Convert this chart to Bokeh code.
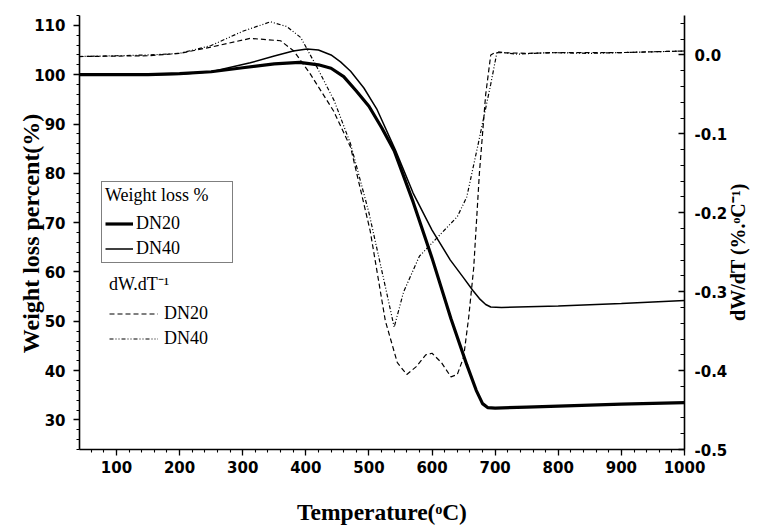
import math
import json
from bokeh.plotting import figure
from bokeh.models import (Range1d, LinearAxis, SingleIntervalTicker, FixedTicker,
                          NumeralTickFormatter, CustomJSTickFormatter, Legend, LegendItem)
from bokeh.embed import file_html
from bokeh.resources import INLINE

# ---------------- data ----------------
t_w20 = [40, 100, 150, 200, 250, 300, 350, 390, 420, 440, 460, 480, 500, 520, 540, 570, 600,
         630, 655, 670, 680, 688, 700, 750, 800, 900, 1000]
w_dn20 = [100, 100, 100, 100.2, 100.6, 101.4, 102.2, 102.5, 102.0, 101.3, 99.6, 96.7, 93.6,
          89.3, 84.6, 74.2, 62.8, 50.5, 41.2, 36.0, 33.3, 32.5, 32.4, 32.6, 32.8, 33.2, 33.5]

t_w40 = [40, 100, 150, 200, 250, 312, 350, 380, 402, 420, 440, 455, 471, 492, 513, 542, 570,
         600, 629, 650, 665, 675, 685, 693, 710, 800, 900, 1000]
w_dn40 = [100, 100, 100, 100.1, 100.6, 102.4, 103.8, 104.8, 105.2, 105.0, 104.0, 102.6, 100.7,
          97.3, 92.9, 84.7, 76.0, 68.5, 62.4, 58.8, 56.2, 54.6, 53.4, 52.9, 52.8, 53.1, 53.6,
          54.2]

t_d20 = [40, 150, 200, 250, 312, 360, 381, 407, 444, 471, 502, 526, 545, 560, 575, 590, 600,
         615, 630, 640, 650, 658, 666, 675, 685, 693, 700, 750, 800, 900, 1000]
d_dn20 = [-0.002, -0.001, 0.002, 0.010, 0.021, 0.018, 0.005, -0.024, -0.071, -0.117, -0.223,
          -0.337, -0.390, -0.405, -0.395, -0.380, -0.378, -0.390, -0.408, -0.405, -0.383,
          -0.333, -0.270, -0.150, -0.050, 0.000, 0.003, 0.002, 0.003, 0.003, 0.005]

t_d40 = [40, 100, 150, 200, 250, 300, 344, 370, 392, 418, 445, 471, 500, 525, 540, 555, 580,
         610, 640, 655, 672, 693, 703, 735, 788, 850, 900, 950, 1000]
d_dn40 = [-0.002, -0.001, 0.000, 0.002, 0.012, 0.030, 0.042, 0.036, 0.022, -0.016, -0.058,
          -0.113, -0.200, -0.290, -0.345, -0.300, -0.255, -0.230, -0.205, -0.180, -0.117,
          -0.037, 0.004, 0.001, 0.003, 0.002, 0.003, 0.004, 0.005]

x_ticks_interval = 100
y_ticks_interval = 10
d_ticks_interval = 0.1

x_title = "Temperature(\u1d52C)"
y_title = "Weight loss percent(%)"
d_title = "dW/dT (%.\u1d52C\u207b\u00b9)"

# ---------------- figure ----------------
X0, X1 = 41.4, 1000
Y0, Y1 = 24, 112
D0, D1 = -0.5, 0.05

p = figure(width=765, height=532, output_backend="svg", toolbar_location=None,
           x_range=Range1d(X0, X1), y_range=Range1d(Y0, Y1),
           min_border_left=79, min_border_right=81, min_border_top=15, min_border_bottom=83)
p.extra_y_ranges = {"d": Range1d(D0, D1)}
p.outline_line_color = None
p.grid.visible = False
p.background_fill_color = "white"
p.border_fill_color = "white"

tick_font = "DejaVu Sans"
title_font = "Liberation Serif"

def style_axis(ax):
    ax.axis_line_color = "black"
    ax.axis_line_width = 1.6
    ax.major_tick_line_color = "black"
    ax.minor_tick_line_color = "black"
    ax.major_tick_line_width = 1.3
    ax.minor_tick_line_width = 1.1
    ax.major_label_text_font = tick_font
    ax.major_label_text_font_style = "bold"
    ax.major_label_text_font_size = "15px"
    ax.major_label_text_color = "black"
    ax.axis_label_text_font = title_font
    ax.axis_label_text_font_style = "bold"
    ax.axis_label_text_font_size = "23.5px"
    ax.axis_label_text_color = "black"

def title_axis(ax, text, size):
    # an axis without line or ticks whose single tick label is the axis title
    ax.formatter = CustomJSTickFormatter(code="return %s;" % json.dumps(text))
    ax.axis_line_color = None
    ax.major_tick_line_color = None
    ax.minor_tick_line_color = None
    ax.major_tick_out = 0
    ax.major_tick_in = 0
    ax.minor_tick_out = 0
    ax.minor_tick_in = 0
    ax.major_label_text_font = title_font
    ax.major_label_text_font_style = "bold"
    ax.major_label_text_font_size = size
    ax.major_label_text_color = "black"
    ax.major_label_orientation = math.pi / 2

xa = p.xaxis[0]
xa.ticker = SingleIntervalTicker(interval=x_ticks_interval, num_minor_ticks=5)
style_axis(xa)
xa.major_tick_out = 6
xa.major_tick_in = 0
xa.minor_tick_out = 3
xa.minor_tick_in = 0
xa.major_label_standoff = 5
xa.axis_label = x_title
xa.axis_label_standoff = 23

ya = p.yaxis[0]
ya.ticker = SingleIntervalTicker(interval=y_ticks_interval, num_minor_ticks=5)
style_axis(ya)
ya.major_tick_out = 6
ya.major_tick_in = 0
ya.minor_tick_out = 3
ya.minor_tick_in = 0
ya.major_label_standoff = 8

# left title: anchored at the top end of the text
ya_title = LinearAxis(ticker=FixedTicker(ticks=[92.1]))
title_axis(ya_title, y_title, "24px")
ya_title.major_label_standoff = 0
p.add_layout(ya_title, "left")

ra = LinearAxis(y_range_name="d",
                ticker=SingleIntervalTicker(interval=d_ticks_interval, num_minor_ticks=5),
                formatter=NumeralTickFormatter(format="0.0"))
style_axis(ra)
ra.major_tick_out = 0
ra.major_tick_in = 6
ra.minor_tick_out = 0
ra.minor_tick_in = 4
ra.major_label_standoff = 10
p.add_layout(ra, "right")

# right title: anchored at the bottom start of the text
ra_title = LinearAxis(y_range_name="d", ticker=FixedTicker(ticks=[-0.337]))
title_axis(ra_title, d_title, "20px")
ra_title.major_label_standoff = 8
p.add_layout(ra_title, "right")

# ---------------- curves ----------------
r_w20 = p.line(t_w20, w_dn20, line_color="black", line_width=3.2)
r_w40 = p.line(t_w40, w_dn40, line_color="black", line_width=1.5)
r_d20 = p.line(t_d20, d_dn20, y_range_name="d", line_color="black", line_width=1.2,
               line_dash="5 3")
r_d40 = p.line(t_d40, d_dn40, y_range_name="d", line_color="black", line_width=1.2,
               line_dash="4 2 1 2 1 2")

# ---------------- legends ----------------
leg_font = "Liberation Serif"
leg1 = Legend(items=[LegendItem(label="DN20", renderers=[r_w20]),
                     LegendItem(label="DN40", renderers=[r_w40])],
              title="Weight loss %", location=(22, 186))
leg2 = Legend(items=[LegendItem(label="DN20", renderers=[r_d20]),
                     LegendItem(label="DN40", renderers=[r_d40])],
              title="dW.dT\u207b\u00b9", location=(30, 100))
for lg in (leg1, leg2):
    lg.label_text_font = leg_font
    lg.label_text_font_size = "18px"
    lg.title_text_font = leg_font
    lg.title_text_font_size = "18px"
    lg.title_text_font_style = "normal"
    lg.label_height = 21
    lg.glyph_height = 21
    lg.spacing = 4
    lg.margin = 0
    lg.label_text_color = "black"
    lg.title_text_color = "black"
leg1.padding = 3
leg1.title_standoff = 7
leg1.glyph_width = 28
leg1.label_standoff = 3
leg1.label_width = 93
leg1.border_line_color = "black"
leg1.border_line_width = 1.2
leg2.padding = 4
leg2.title_standoff = 8
leg2.glyph_width = 49
leg2.label_standoff = 6
leg2.border_line_color = None
leg2.background_fill_alpha = 0
p.add_layout(leg1)
p.add_layout(leg2)

open("out.html", "w").write(file_html(p, INLINE))
